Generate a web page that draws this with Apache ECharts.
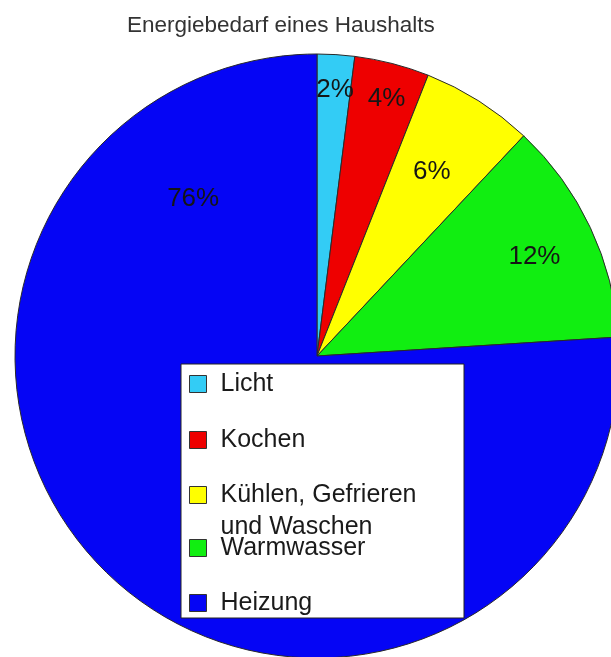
<!DOCTYPE html>
<html>
<head>
<meta charset="utf-8">
<script src="https://cdn.jsdelivr.net/npm/echarts@6/dist/echarts.min.js"></script>
<style>
html,body{margin:0;padding:0;background:#fff;}
#chart{width:611px;height:657px;}
</style>
</head>
<body>
<div id="chart"></div>
<script>
// ---- data ----
const chartTitle = 'Energiebedarf eines Haushalts';
const categories = ['Licht', 'Kochen', 'Kühlen, Gefrieren und Waschen', 'Warmwasser', 'Heizung'];
const shares = [2, 4, 6, 12, 76];

// ---- styling / layout ----
const colors = ['#33CCF5', '#EE0000', '#FFFF00', '#11EE11', '#0505F5'];
const pieCenter = [317, 356];
const pieRadius = 302;
// label offsets as fractions of the radius (x right, y down)
const labelOffsets = [[0.06, -0.88], [0.23, -0.85], [0.38, -0.61], [0.72, -0.33], [-0.41, -0.52]];
const legendTops = [371.5, 427.5, 479, 535.5, 590.5];
const FONT = "'Liberation Sans', Arial, sans-serif";

const chart = echarts.init(document.getElementById('chart'), null, {renderer: 'canvas'});

const legends = categories.map(function (name, i) {
  const twoLine = name.indexOf(' und ') >= 0;
  return {
    data: [name],
    orient: 'vertical',
    left: 189,
    top: legendTops[i],
    padding: 0,
    itemWidth: 17,
    itemHeight: twoLine ? 49 : 17,
    // two-line entry: square sits beside the first line
    icon: twoLine ? 'path://M0,0L17,0L17,17L0,17Z M0,49' : 'rect',
    selectedMode: false,
    z: 6,
    itemStyle: {borderColor: '#333', borderWidth: 1},
    formatter: function (n) { return n.replace(' und ', '\nund '); },
    textStyle: twoLine ? {
      fontFamily: FONT, fontSize: 25, color: '#1a1a1a',
      lineHeight: 32, padding: [0, 0, 0, 9]
    } : {
      fontFamily: FONT, fontSize: 25, color: '#1a1a1a', padding: [0, 0, 0, 9]
    }
  };
});

chart.setOption({
  animation: false,
  backgroundColor: '#fff',
  title: {
    text: chartTitle,
    left: 127,
    top: 14,
    padding: 0,
    textStyle: {fontFamily: FONT, fontSize: 22.5, fontWeight: 'normal', color: '#333'}
  },
  legend: legends,
  graphic: [{
    type: 'rect',
    z: 5,
    shape: {x: 181, y: 364, width: 283, height: 254},
    style: {fill: '#fff', stroke: '#222', lineWidth: 1}
  }],
  series: [{
    type: 'pie',
    center: pieCenter,
    radius: pieRadius,
    startAngle: 90,
    clockwise: true,
    z: 2,
    data: categories.map(function (c, i) {
      return {name: c, value: shares[i], itemStyle: {color: colors[i]}};
    }),
    itemStyle: {borderColor: '#2a2a2a', borderWidth: 1},
    emphasis: {disabled: true},
    label: {
      show: true,
      position: 'inside',
      formatter: '{c}%',
      fontFamily: FONT,
      fontSize: 26,
      color: '#151515'
    },
    labelLine: {show: false},
    labelLayout: function (params) {
      const o = labelOffsets[params.dataIndex];
      return {
        x: pieCenter[0] + o[0] * pieRadius,
        y: pieCenter[1] + o[1] * pieRadius,
        align: 'center',
        verticalAlign: 'middle'
      };
    }
  }]
});
</script>
</body>
</html>
